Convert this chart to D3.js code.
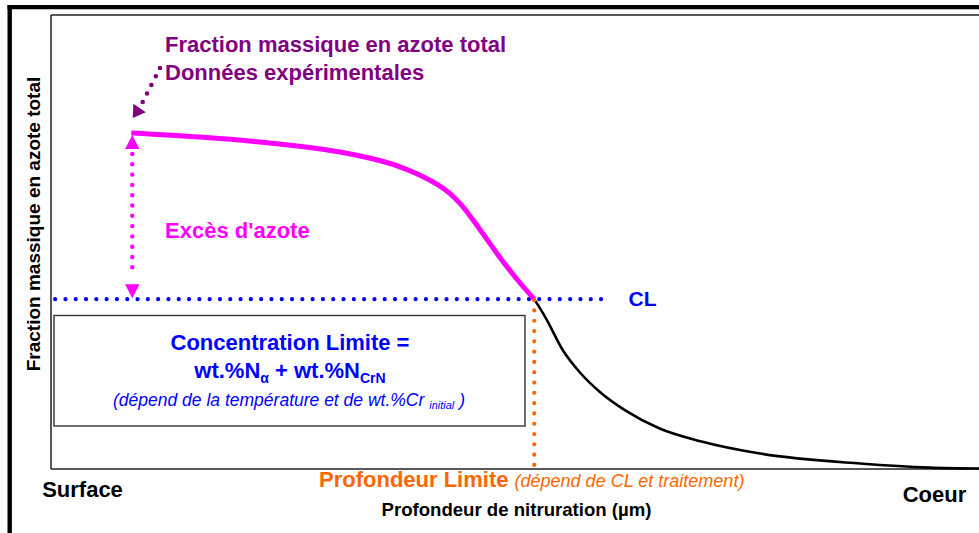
<!DOCTYPE html>
<html>
<head>
<meta charset="utf-8">
<script src="https://cdn.jsdelivr.net/npm/d3@7"></script>
<style>
  html, body { margin: 0; padding: 0; background: #fff; }
  svg { display: block; }
  text { font-family: "Liberation Sans", Arial, Helvetica, sans-serif; }
</style>
</head>
<body>
<svg id="chart" width="979" height="533"></svg>
<script>
// Nitriding profile (relative units): depth 0 = surface, 100 = core;
// N = total nitrogen mass fraction, normalised.
const excessDepth = [8.7, 16.1, 23.6, 31.2, 37.7, 39.8, 43.0, 44.1, 46.3, 48.4, 50.6, 52.1];
const excessN     = [0.739, 0.730, 0.717, 0.697, 0.664, 0.646, 0.606, 0.584, 0.525, 0.465, 0.408, 0.373];
const coreDepth   = [52.1, 53.3, 55.2, 57.0, 59.2, 61.9, 65.6, 70.0, 76.4, 87.2, 94.7, 100];
const coreN       = [0.373, 0.333, 0.260, 0.212, 0.168, 0.128, 0.088, 0.060, 0.033, 0.011, 0.002, 0.0];
const limitConcentration = 0.373;   // CL
const limitDepth = 52.1;            // Profondeur limite
const clLineDepth = [0.5, 60];
const depthEnds = ["Surface", "Coeur"];

const W = 979, H = 533;
const PURPLE = "#800080", MAGENTA = "#ff00ff", BLUE = "#0000ff", ORANGE = "#ff6600";

const svg = d3.select("#chart");
svg.append("rect").attr("width", W).attr("height", H).attr("fill", "#fff");

const x = d3.scaleLinear().domain([0, 100]).range([50.5, 979]);
const y = d3.scaleLinear().domain([0, 1]).range([468.5, 14.5]);

// outer heavy frame (top + left)
svg.append("line").attr("x1", 7.5).attr("x2", W).attr("y1", 7.2).attr("y2", 7.2)
  .attr("stroke", "#000").attr("stroke-width", 4.2);
svg.append("line").attr("x1", 9.7).attr("x2", 9.7).attr("y1", 5).attr("y2", H)
  .attr("stroke", "#000").attr("stroke-width", 4.4);

// plot frame drawn with bare axes
const frame = svg.append("g").attr("class", "frame");
frame.append("g").attr("transform", `translate(0,${y(0)})`)
  .call(d3.axisBottom(x).tickValues([]).tickSizeOuter(0));
frame.append("g").attr("transform", `translate(0,${y(1)})`)
  .call(d3.axisTop(x).tickValues([]).tickSizeOuter(0));
frame.append("g").attr("transform", `translate(${x(0)},0)`)
  .call(d3.axisLeft(y).tickValues([]).tickSizeOuter(0));
frame.selectAll(".domain").attr("stroke", "#222").attr("stroke-width", 1.5);

// axis titles
svg.append("text")
  .attr("transform", `translate(40,224) rotate(-90)`)
  .attr("text-anchor", "middle").attr("font-weight", "bold").attr("font-size", 19)
  .attr("fill", "#000").text("Fraction massique en azote total");

svg.append("text").attr("x", x(0) + 32).attr("y", 497)
  .attr("text-anchor", "middle").attr("font-weight", "bold").attr("font-size", 22)
  .text(depthEnds[0]);
svg.append("text").attr("x", x(100) - 44.5).attr("y", 502)
  .attr("text-anchor", "middle").attr("font-weight", "bold").attr("font-size", 22)
  .text(depthEnds[1]);
svg.append("text").attr("x", 516.5).attr("y", 516)
  .attr("text-anchor", "middle").attr("font-weight", "bold").attr("font-size", 18.6)
  .text("Profondeur de nitruration (µm)");

// CL dotted line
svg.append("line")
  .attr("x1", x(clLineDepth[0])).attr("x2", x(clLineDepth[1]))
  .attr("y1", y(limitConcentration)).attr("y2", y(limitConcentration))
  .attr("stroke", BLUE).attr("stroke-width", 4.2)
  .attr("stroke-linecap", "round").attr("stroke-dasharray", "0 10.3");
svg.append("text").attr("x", x(clLineDepth[1]) + 21).attr("y", y(limitConcentration) + 7)
  .attr("font-weight", "bold").attr("font-size", 21).attr("fill", BLUE).text("CL");

// box with the CL definition
const box = svg.append("g");
box.append("rect").attr("x", 54).attr("y", 315.5).attr("width", 471).attr("height", 110.5)
  .attr("fill", "#fff").attr("stroke", "#333").attr("stroke-width", 1.4);
box.append("text").attr("x", 290).attr("y", 350)
  .attr("text-anchor", "middle").attr("font-weight", "bold").attr("font-size", 22)
  .attr("fill", BLUE).text("Concentration Limite =");
const f = box.append("text").attr("x", 290).attr("y", 378)
  .attr("text-anchor", "middle").attr("font-weight", "bold").attr("font-size", 22)
  .attr("fill", BLUE);
f.append("tspan").text("wt.%N");
f.append("tspan").attr("font-size", 14).attr("dy", 5).text("α");
f.append("tspan").attr("dy", -5).text(" + wt.%N");
f.append("tspan").attr("font-size", 14).attr("dy", 5).text("CrN");
const g2 = box.append("text").attr("x", 289).attr("y", 406)
  .attr("text-anchor", "middle").attr("font-style", "italic").attr("font-size", 17.5)
  .attr("fill", BLUE);
g2.append("tspan").text("(dépend de la température et de wt.%Cr ");
g2.append("tspan").attr("font-size", 11).attr("dy", 3).text("initial");
g2.append("tspan").attr("dy", -3).text(" )");

// diffusion tail towards the core
const line = d3.line().x(d => x(d[0])).y(d => y(d[1])).curve(d3.curveMonotoneX);
svg.append("path").datum(d3.zip(coreDepth, coreN))
  .attr("d", line).attr("fill", "none").attr("stroke", "#000").attr("stroke-width", 2.6);

// excess-nitrogen part of the profile
svg.append("path").datum(d3.zip(excessDepth, excessN))
  .attr("d", line).attr("fill", "none").attr("stroke", MAGENTA).attr("stroke-width", 5)
  .attr("stroke-linejoin", "round");

// limit depth dotted line
svg.append("line")
  .attr("x1", x(limitDepth)).attr("x2", x(limitDepth))
  .attr("y1", y(limitConcentration) + 1).attr("y2", y(0) - 3)
  .attr("stroke", ORANGE).attr("stroke-width", 4.2)
  .attr("stroke-linecap", "round").attr("stroke-dasharray", "0 10.3");
const pl = svg.append("text").attr("x", 319).attr("y", 487).attr("fill", ORANGE);
pl.append("tspan").attr("font-weight", "bold").attr("font-size", 22).text("Profondeur Limite ");
pl.append("tspan").attr("font-style", "italic").attr("font-size", 18).text("(dépend de CL et traitement)");

// excess arrow (double headed, dotted)
const ax = x(excessDepth[0]) + 1;
const topTip = y(excessN[0]) + 2, botTip = y(limitConcentration) - 1;
const head = 14, halfW = 7.2;
svg.append("line").attr("x1", ax).attr("x2", ax)
  .attr("y1", topTip + head + 5).attr("y2", botTip - head - 7)
  .attr("stroke", MAGENTA).attr("stroke-width", 4.4)
  .attr("stroke-linecap", "round").attr("stroke-dasharray", "0 10.3");
svg.append("path")
  .attr("d", `M${ax},${topTip} L${ax - halfW},${topTip + head} L${ax + halfW},${topTip + head} Z`)
  .attr("fill", MAGENTA);
svg.append("path")
  .attr("d", `M${ax},${botTip} L${ax - halfW},${botTip - head} L${ax + halfW},${botTip - head} Z`)
  .attr("fill", MAGENTA);
svg.append("text").attr("x", 165).attr("y", 238)
  .attr("font-weight", "bold").attr("font-size", 22).attr("fill", MAGENTA)
  .text("Excès d'azote");

// experimental data callout
svg.append("text").attr("x", 165).attr("y", 51.5)
  .attr("font-weight", "bold").attr("font-size", 22).attr("fill", PURPLE)
  .text("Fraction massique en azote total");
svg.append("text").attr("x", 165).attr("y", 80)
  .attr("font-weight", "bold").attr("font-size", 22).attr("fill", PURPLE)
  .text("Données expérimentales");

const tipX = x(excessDepth[0]) + 1.5, tipY = y(excessN[0]) - 15;
const endX = tipX + 6.5, endY = tipY - 9.5;
svg.append("path")
  .attr("d", `M160,68 Q151,86 ${endX},${endY}`)
  .attr("fill", "none").attr("stroke", PURPLE).attr("stroke-width", 4.6)
  .attr("stroke-linecap", "round").attr("stroke-dasharray", "0 9.6");
{
  const dx = tipX - endX, dy = tipY - endY, len = Math.hypot(dx, dy);
  const ux = dx / len, uy = dy / len, bx = tipX - ux * 12, by = tipY - uy * 12;
  svg.append("path")
    .attr("d", `M${tipX},${tipY} L${bx - uy * 7.5},${by + ux * 7.5} L${bx + uy * 7.5},${by - ux * 7.5} Z`)
    .attr("fill", PURPLE);
}
</script>
</body>
</html>
